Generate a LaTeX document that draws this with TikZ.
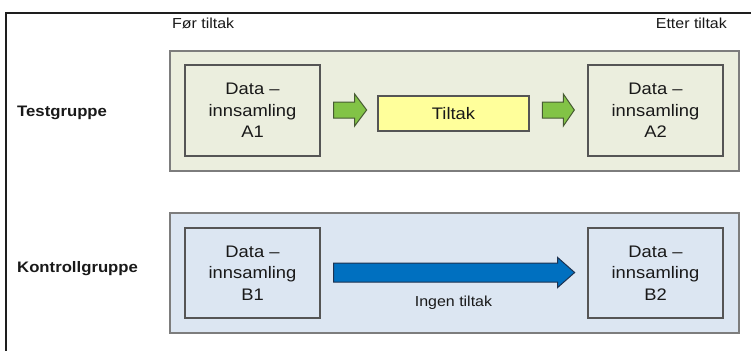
\documentclass[tikz,border=0pt]{standalone}
\usepackage{fontspec}
\setmainfont[FakeStretch=1.1]{Liberation Sans}
\usetikzlibrary{calc}
\definecolor{framecol}{RGB}{30,30,30}
\definecolor{panelA}{RGB}{235,238,222}
\definecolor{panelB}{RGB}{220,230,242}
\definecolor{panelborder}{RGB}{125,125,125}
\definecolor{boxborder}{RGB}{85,85,85}
\definecolor{tiltakfill}{RGB}{255,255,155}
\definecolor{greenarrow}{RGB}{130,195,70}
\definecolor{greenborder}{RGB}{70,90,50}
\definecolor{bluearrow}{RGB}{0,112,192}
\definecolor{blueborder}{RGB}{30,50,80}
\definecolor{txt}{RGB}{25,25,25}
\begin{document}
\begin{tikzpicture}[x=1bp,y=1bp,
  panel/.style={draw=panelborder,line width=1.3bp,inner sep=0pt,outer sep=0pt,anchor=south west},
  databox/.style={draw=boxborder,line width=1.3bp,minimum width=135bp,minimum height=91bp,inner sep=0pt,align=center,text=txt,
    font=\fontsize{16.7bp}{21.3bp}\selectfont},
  tiltakbox/.style={draw=boxborder,fill=tiltakfill,line width=1.3bp,minimum width=151bp,minimum height=35bp,inner sep=0pt,text=txt,
    font=\fontsize{16.7bp}{20bp}\selectfont},
  grouplabel/.style={anchor=west,inner sep=0pt,text=txt,font=\fontsize{15.2bp}{18bp}\selectfont\bfseries},
  timelabel/.style={inner sep=0pt,text=txt,font=\fontsize{14.5bp}{17bp}\selectfont},
  greenarr/.style={fill=greenarrow,draw=greenborder,line width=1bp,line join=miter},
  bluearr/.style={fill=bluearrow,draw=blueborder,line width=1bp,line join=miter}
]
\useasboundingbox (0,0) rectangle (751,351);
% outer frame
\coordinate (fr1) at (751,338);
\coordinate (fr2) at (6,338);
\coordinate (fr3) at (6,0);
\draw[framecol,line width=1.6bp] (fr1) -- (fr2) -- (fr3);

% panels
\node[panel,fill=panelA,minimum width=569bp,minimum height=120bp] (pA) at (170,180) {};
\node[panel,fill=panelB,minimum width=569bp,minimum height=120bp] (pB) at (170,18) {};

% boxes
\node[databox] (A1) at (252.5,240.5) {Data –\\innsamling\\A1};
\node[databox] (A2) at (655.5,240.5) {Data –\\innsamling\\A2};
\node[tiltakbox] (T) at (453.5,237.5) {Tiltak};
\node[databox,minimum height=90bp] (B1) at (252.5,78) {Data –\\innsamling\\B1};
\node[databox,minimum height=90bp] (B2) at (655.5,78) {Data –\\innsamling\\B2};

% labels
\node[grouplabel] (lt) at (17,238) {Testgruppe};
\node[grouplabel] (lk) at (17,82) {Kontrollgruppe};
\node[timelabel,anchor=base west] (fo) at (172,322.5) {Før tiltak};
\node[timelabel,anchor=base east] (et) at (727,322.5) {Etter tiltak};
\node[timelabel,anchor=center] (ing) at (453.5,48) {Ingen tiltak};

% green arrow 1 (A1 -> Tiltak)
\coordinate (g1) at ($(A1.east)+(13,0.5)$);
\draw[greenarr] ($(g1)+(0,8)$) -- ++(21,0) -- ++(0,8) -- ++(12,-16) -- ++(-12,-16) -- ++(0,8) -- ++(-21,0) -- cycle;
% green arrow 2 (Tiltak -> A2)
\coordinate (g2) at ($(A2.west)+(-45,0.5)$);
\draw[greenarr] ($(g2)+(0,8)$) -- ++(21,0) -- ++(0,8) -- ++(11,-16) -- ++(-11,-16) -- ++(0,8) -- ++(-21,0) -- cycle;
% blue arrow (B1 -> B2)
\coordinate (b1) at ($(B1.east)+(13,0.5)$);
\draw[bluearr] ($(b1)+(0,9.5)$) -- ++(224,0) -- ++(0,5.5) -- ++(17,-15) -- ++(-17,-15) -- ++(0,5.5) -- ++(-224,0) -- cycle;
\end{tikzpicture}
\end{document}
